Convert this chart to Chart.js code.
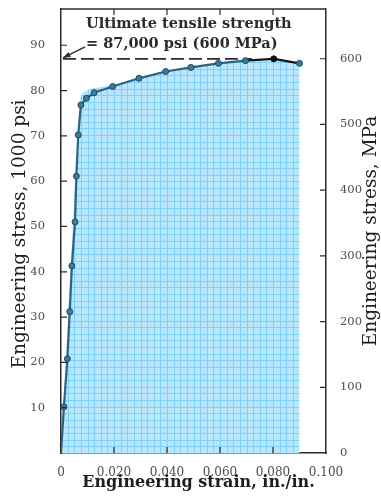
<!DOCTYPE html>
<html>
<head>
<meta charset="utf-8">
<script src="https://cdn.jsdelivr.net/npm/chart.js@4.4.1/dist/chart.umd.min.js"></script>
<style>
  html, body { margin: 0; padding: 0; background: #fff; }
  #wrap { width: 381px; height: 498px; position: relative; }
</style>
</head>
<body>
<div id="wrap"><canvas id="chart"></canvas></div>
<script>
// measured stress-strain points (strain in in./in., stress in ksi)
const strain    = [0, 0.0011, 0.0024, 0.0033, 0.0041, 0.0053, 0.0058, 0.0065, 0.0075, 0.0096, 0.0125, 0.0195, 0.0294, 0.0395, 0.0490, 0.0594, 0.0696, 0.0803, 0.0900];
const stressKsi = [0, 10.2, 20.8, 31.2, 41.3, 51.0, 61.1, 70.2, 76.8, 78.3, 79.5, 80.9, 82.7, 84.2, 85.1, 86.0, 86.6, 87.0, 86.0];

// outline of the shaded area under the curve
const fillStrain = [0, 0.0062, 0.0072, 0.0084, 0.0110, 0.0195, 0.0294, 0.0395, 0.0490, 0.0600, 0.0700, 0.0800, 0.0900];
const fillKsi    = [0, 70.0, 78.5, 79.6, 80.4, 81.2, 82.9, 84.3, 85.2, 86.1, 86.5, 86.6, 86.3];

const strainTicks = [0, 0.02, 0.04, 0.06, 0.08, 0.1];
const ksiTicks = [10, 20, 30, 40, 50, 60, 70, 80, 90];
const mpaTicks = [0, 100, 200, 300, 400, 500, 600];

const utsKsi = 87;
const KSI_TO_MPA = 6.895;
const ksiMax = 98;

const serif = '"DejaVu Serif", "Liberation Serif", serif';
const ink = '#2b2b2b';

function toPoints(xs, ys) {
  return xs.map((x, i) => ({ x: x, y: ys[i] }));
}

// graph-paper fill, lines aligned to the plot area
function gridFill(ctx) {
  const chart = ctx.chart;
  const a = chart.chartArea;
  if (!a) return '#b5e5fd';
  if (chart.$gridFill) return chart.$gridFill;
  const c = document.createElement('canvas');
  c.width = chart.width;
  c.height = chart.height;
  const g = c.getContext('2d');
  g.fillStyle = '#b8e6fd';
  g.fillRect(0, 0, c.width, c.height);
  const step = (a.right - a.left) / 40;
  g.strokeStyle = '#7ed0f6';
  g.lineWidth = 1;
  g.beginPath();
  for (let x = a.left + step; x < a.right; x += step) {
    const px = Math.round(x) + 0.5;
    g.moveTo(px, 0); g.lineTo(px, c.height);
  }
  for (let y = a.bottom - step; y > 0; y -= step) {
    const py = Math.round(y) + 0.5;
    g.moveTo(0, py); g.lineTo(c.width, py);
  }
  g.stroke();
  chart.$gridFill = chart.ctx.createPattern(c, 'no-repeat');
  return chart.$gridFill;
}

const decorations = {
  id: 'decorations',
  beforeDatasetsDraw(chart) {
    const { ctx, scales: { x, y } } = chart;
    const yl = y.getPixelForValue(utsKsi);
    ctx.save();
    ctx.strokeStyle = ink;
    ctx.lineWidth = 1.6;
    ctx.setLineDash([13, 5]);
    ctx.beginPath();
    ctx.moveTo(x.getPixelForValue(0) + 2, yl);
    ctx.lineTo(x.getPixelForValue(0.072), yl);
    ctx.stroke();
    ctx.restore();
  },
  afterDatasetsDraw(chart) {
    const { ctx, chartArea: a, scales: { x, y, y2 } } = chart;
    ctx.save();
    // frame
    ctx.strokeStyle = ink;
    ctx.lineWidth = 1.5;
    ctx.beginPath();
    ctx.moveTo(a.left, a.top);
    ctx.lineTo(a.right, a.top);
    ctx.stroke();

    // inward tick marks
    ctx.lineWidth = 1.2;
    ctx.beginPath();
    const len = 6;
    x.ticks.forEach(t => {
      if (t.value === 0 || t.value >= 0.1) return;
      const px = x.getPixelForValue(t.value);
      ctx.moveTo(px, a.bottom); ctx.lineTo(px, a.bottom - len);
      ctx.moveTo(px, a.top); ctx.lineTo(px, a.top + len);
    });
    y.ticks.forEach(t => {
      const py = y.getPixelForValue(t.value);
      ctx.moveTo(a.left, py); ctx.lineTo(a.left + len, py);
    });
    y2.ticks.forEach(t => {
      if (t.value === 0) return;
      const py = y2.getPixelForValue(t.value);
      ctx.moveTo(a.right, py); ctx.lineTo(a.right - len, py);
    });
    ctx.stroke();

    // ultimate tensile strength note with arrow
    const yl = y.getPixelForValue(utsKsi);
    const tx = a.left + 25;
    ctx.fillStyle = ink;
    ctx.font = 'bold 14.5px ' + serif;
    ctx.textBaseline = 'middle';
    ctx.textAlign = 'left';
    ctx.fillText('Ultimate tensile strength', tx, yl - 35);
    ctx.fillText('= 87,000 psi (600 MPa)', tx, yl - 15);

    const x0 = tx - 1, y0 = yl - 12;
    const x1 = a.left + 2, y1 = yl - 1;
    ctx.lineWidth = 1.3;
    ctx.setLineDash([]);
    ctx.beginPath();
    ctx.moveTo(x0, y0); ctx.lineTo(x1, y1);
    ctx.stroke();
    const ang = Math.atan2(y1 - y0, x1 - x0);
    ctx.beginPath();
    ctx.moveTo(x1, y1);
    ctx.lineTo(x1 - 8 * Math.cos(ang - 0.35), y1 - 8 * Math.sin(ang - 0.35));
    ctx.lineTo(x1 - 8 * Math.cos(ang + 0.35), y1 - 8 * Math.sin(ang + 0.35));
    ctx.closePath();
    ctx.fill();
    ctx.restore();
  },
  afterDraw(chart) {
    const { ctx, chartArea: a } = chart;
    const cy = (a.top + a.bottom) / 2;
    ctx.save();
    ctx.fillStyle = '#1e1e1e';
    ctx.textAlign = 'center';
    ctx.textBaseline = 'middle';

    ctx.font = 'bold 16px ' + serif;
    ctx.fillText('Engineering strain, in./in.', (a.left + a.right) / 2 + 5, 483);

    ctx.font = '18.5px ' + serif;
    ctx.save();
    ctx.translate(20, cy + 3);
    ctx.rotate(-Math.PI / 2);
    ctx.fillText('Engineering stress, 1000 psi', 0, 0);
    ctx.restore();

    ctx.save();
    ctx.translate(371, cy);
    ctx.rotate(-Math.PI / 2);
    ctx.fillText('Engineering stress, MPa', 0, 0);
    ctx.restore();
    ctx.restore();
  }
};

const tickFont = { family: serif, size: 11.5 };
const tickColor = '#4d4d4d';

// vertical axes: fixed width, no extra room for end labels
function fitVertical(width) {
  return s => {
    s.width = width;
    s.paddingTop = 0;
    s.paddingBottom = 0;
  };
}

new Chart(document.getElementById('chart'), {
  type: 'scatter',
  data: {
    datasets: [
      {
        label: 'Stress-strain curve',
        data: toPoints(strain, stressKsi),
        showLine: true,
        borderColor: '#2c6383',
        borderWidth: 2.2,
        pointRadius: strain.map(s => s === 0 ? 0 : 3),
        pointBackgroundColor: strain.map(s => s > 0.075 && s < 0.085 ? '#111' : '#3a7a9b'),
        pointBorderColor: strain.map(s => s > 0.075 && s < 0.085 ? '#111' : '#1f4a66'),
        pointBorderWidth: 1,
        segment: {
          borderColor: c => c.p0.parsed.x >= 0.069 ? '#151515' : '#2c6383'
        },
        order: 0
      },
      {
        label: 'Shaded area',
        data: toPoints(fillStrain, fillKsi),
        showLine: true,
        borderWidth: 0,
        borderColor: 'rgba(0,0,0,0)',
        pointRadius: 0,
        fill: 'origin',
        backgroundColor: gridFill,
        order: 1
      }
    ]
  },
  options: {
    responsive: true,
    maintainAspectRatio: false,
    animation: false,
    layout: { padding: { top: 9, right: 0, left: 0, bottom: 0 } },
    plugins: {
      legend: { display: false },
      tooltip: { enabled: false }
    },
    scales: {
      x: {
        type: 'linear',
        min: 0,
        max: 0.1,
        afterBuildTicks: s => { s.ticks = strainTicks.map(v => ({ value: v })); },
        afterFit: s => { s.height = 45; },
        grid: { display: false },
        border: { display: true, color: ink, width: 1.5 },
        ticks: {
          padding: 5,
          font: { family: serif, size: 12 },
          color: tickColor,
          callback: v => v === 0 ? '0' : v.toFixed(3)
        }
      },
      y: {
        type: 'linear',
        position: 'left',
        min: 0,
        max: ksiMax,
        afterBuildTicks: s => { s.ticks = ksiTicks.map(v => ({ value: v })); },
        afterFit: fitVertical(61),
        grid: { display: false },
        border: { display: true, color: ink, width: 1.5 },
        ticks: { padding: 8, font: tickFont, color: tickColor }
      },
      y2: {
        type: 'linear',
        position: 'right',
        min: 0,
        max: ksiMax * KSI_TO_MPA,
        afterBuildTicks: s => { s.ticks = mpaTicks.map(v => ({ value: v })); },
        afterFit: fitVertical(55),
        grid: { display: false },
        border: { display: true, color: ink, width: 1.5 },
        ticks: { padding: 6, font: tickFont, color: tickColor }
      }
    }
  },
  plugins: [decorations]
});
</script>
</body>
</html>
